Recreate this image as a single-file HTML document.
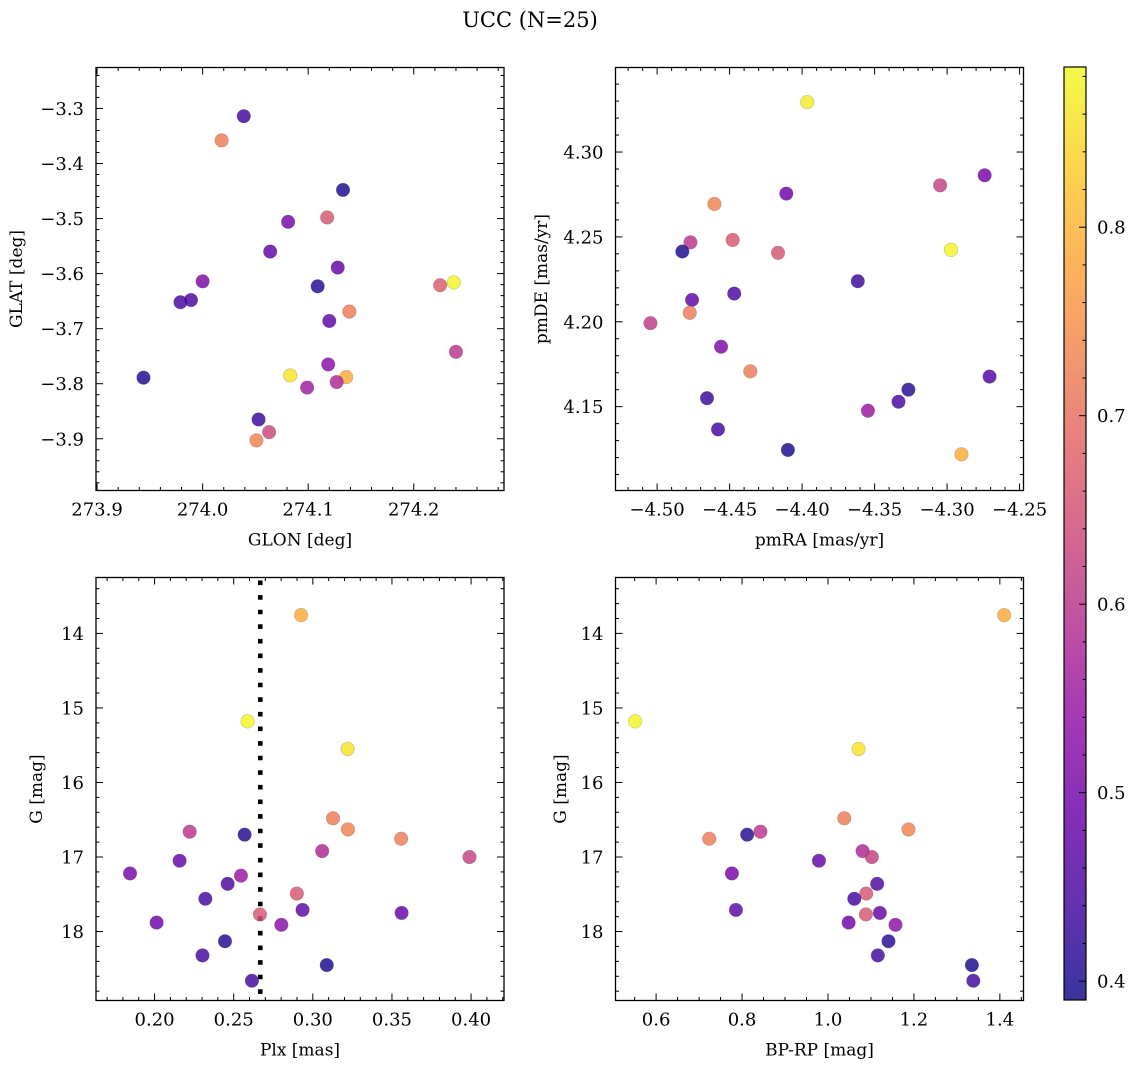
<!DOCTYPE html>
<html><head><meta charset="utf-8">
<style>
html,body{margin:0;padding:0;background:#fff;}
svg{display:block;font-family:"DejaVu Serif","Liberation Serif",serif;}
</style></head>
<body>
<svg id="fig" width="1136" height="1067" viewBox="0 0 1136 1067" xmlns="http://www.w3.org/2000/svg">
<defs>
<linearGradient id="plasma" x1="0" y1="1" x2="0" y2="0">
<stop offset="0" stop-color="#0d0887"/><stop offset="0.1" stop-color="#41049d"/><stop offset="0.2" stop-color="#6a00a8"/><stop offset="0.3" stop-color="#8f0da4"/><stop offset="0.4" stop-color="#b12a90"/><stop offset="0.5" stop-color="#cc4778"/><stop offset="0.6" stop-color="#e16462"/><stop offset="0.7" stop-color="#f2844b"/><stop offset="0.8" stop-color="#fca636"/><stop offset="0.9" stop-color="#fcce25"/><stop offset="1" stop-color="#f0f921"/>
</linearGradient>
</defs>
<text x="530" y="27" font-size="21" text-anchor="middle">UCC (N=25)</text>
</svg>
<script>
// ---- Data ----
const glon=[274.039,274.018,274.133,274.118,274.081,274.064,274.128,274.000,274.109,274.225,274.238,273.979,273.989,274.139,274.120,274.240,273.944,274.083,274.119,274.136,274.127,274.099,274.053,274.063,274.051];
const glat=[-3.314,-3.358,-3.448,-3.498,-3.506,-3.560,-3.589,-3.614,-3.623,-3.621,-3.616,-3.652,-3.648,-3.669,-3.686,-3.742,-3.789,-3.785,-3.765,-3.788,-3.797,-3.807,-3.865,-3.888,-3.903];
const colorSky=[0.44,0.72,0.40,0.66,0.50,0.47,0.48,0.51,0.41,0.67,0.88,0.44,0.45,0.72,0.47,0.60,0.40,0.86,0.53,0.79,0.58,0.56,0.43,0.63,0.73];

const pmra=[-4.3965,-4.2741,-4.3048,-4.4109,-4.4605,-4.4770,-4.4826,-4.4479,-4.4166,-4.2973,-4.3616,-4.4759,-4.4468,-4.4775,-4.5046,-4.4559,-4.4357,-4.2707,-4.3267,-4.3335,-4.3546,-4.4656,-4.4580,-4.4098,-4.2901];
const pmde=[4.3294,4.2863,4.2804,4.2755,4.2694,4.2468,4.2414,4.2482,4.2406,4.2424,4.2239,4.2129,4.2166,4.2053,4.1992,4.1853,4.1708,4.1677,4.1600,4.1529,4.1476,4.1550,4.1366,4.1245,4.1219];
const colorPM=[0.87,0.50,0.62,0.49,0.73,0.60,0.40,0.66,0.66,0.88,0.43,0.47,0.45,0.72,0.61,0.51,0.72,0.46,0.41,0.45,0.55,0.43,0.44,0.40,0.79];

const plx=[0.2926,0.2588,0.3220,0.3128,0.3222,0.3558,0.2222,0.2569,0.3059,0.3990,0.2158,0.1845,0.2546,0.2462,0.2321,0.2899,0.2935,0.3561,0.2666,0.2801,0.2013,0.2445,0.2303,0.3088,0.2615];
const gPlx=[13.755,15.18,15.55,16.48,16.63,16.755,16.66,16.70,16.92,17.00,17.05,17.22,17.25,17.36,17.56,17.49,17.71,17.75,17.77,17.91,17.88,18.13,18.32,18.45,18.66];
const colorPlx=[0.79,0.88,0.86,0.72,0.73,0.72,0.60,0.41,0.58,0.62,0.48,0.50,0.55,0.45,0.44,0.66,0.47,0.48,0.66,0.53,0.49,0.41,0.44,0.40,0.44];
const plxLine=[0.2668];

const bprp=[1.410,0.5513,1.0712,1.0378,1.1873,0.7237,0.8428,0.8119,1.0805,1.1021,0.979,0.7764,1.1144,1.089,1.0612,0.7857,1.1207,1.0882,1.048,1.1571,1.1408,1.116,1.3349,1.3382];
const gCMD=[13.755,15.18,15.55,16.48,16.63,16.755,16.66,16.70,16.92,17.00,17.05,17.22,17.36,17.49,17.56,17.71,17.75,17.77,17.88,17.91,18.13,18.32,18.45,18.66];
const colorCMD=[0.79,0.88,0.86,0.72,0.73,0.72,0.60,0.41,0.58,0.62,0.48,0.50,0.45,0.66,0.44,0.47,0.48,0.66,0.49,0.53,0.41,0.44,0.40,0.44];

const cbarTicks=[0.4,0.5,0.6,0.7,0.8];
const cmin=0.39, cmax=0.885;

// ---- helpers ----
const NS="http://www.w3.org/2000/svg";
const svg=document.getElementById('fig');
function el(tag,attrs,parent){const e=document.createElementNS(NS,tag);for(const k in attrs)e.setAttribute(k,attrs[k]);(parent||svg).appendChild(e);return e;}
const stops=[[0,13,8,135],[0.1,65,4,157],[0.2,106,0,168],[0.3,143,13,164],[0.4,177,42,144],[0.5,204,71,120],[0.6,225,100,98],[0.7,242,132,75],[0.8,252,166,54],[0.9,252,206,37],[1,240,249,33]];
function plasma(v){let t=(v-cmin)/(cmax-cmin);t=Math.max(0,Math.min(1,t));
 for(let i=0;i<stops.length-1;i++){const a=stops[i],b=stops[i+1];if(t<=b[0]){const f=(t-a[0])/(b[0]-a[0]);return `rgb(${Math.round(a[1]+f*(b[1]-a[1]))},${Math.round(a[2]+f*(b[2]-a[2]))},${Math.round(a[3]+f*(b[3]-a[3]))})`;}}
 return 'rgb(240,249,33)';}
function fmt(v,d){const s=Math.abs(v).toFixed(d);return (v<-1e-9?'\u2212':'')+s;}

function panel(cfg){
 const g=el('g',{});
 
 
 const sx=v=>cfg.x0+(v-cfg.xa)/(cfg.xb-cfg.xa)*(cfg.x1-cfg.x0);
 const sy=v=>cfg.y0+(v-cfg.ya)/(cfg.yb-cfg.ya)*(cfg.y1-cfg.y0);
 const tg=el('g',{stroke:'#000','stroke-width':1},g);
 const lo=Math.min(cfg.xa,cfg.xb),hi=Math.max(cfg.xa,cfg.xb);
 for(let k=Math.ceil(lo/cfg.xmin-1e-6);k*cfg.xmin<=hi+1e-9;k++){const v=k*cfg.xmin;const X=sx(v);
  const isMaj=Math.abs(v/cfg.xmaj-Math.round(v/cfg.xmaj))<1e-4;const L=isMaj?7:3.5;
  el('line',{x1:X,x2:X,y1:cfg.y1,y2:cfg.y1-L},tg);el('line',{x1:X,x2:X,y1:cfg.y0,y2:cfg.y0+L},tg);
  if(isMaj){const t=el('text',{x:X,y:cfg.y1+25,'font-size':18,'text-anchor':'middle',stroke:'none',fill:'#000'},g);t.textContent=fmt(v,cfg.xd);
   }}
 const ylo=Math.min(cfg.ya,cfg.yb),yhi=Math.max(cfg.ya,cfg.yb);
 for(let k=Math.ceil(ylo/cfg.ymin-1e-6);k*cfg.ymin<=yhi+1e-9;k++){const v=k*cfg.ymin;const Y=sy(v);
  const isMaj=Math.abs(v/cfg.ymaj-Math.round(v/cfg.ymaj))<1e-4;const L=isMaj?7:3.5;
  el('line',{x1:cfg.x0,x2:cfg.x0+L,y1:Y,y2:Y},tg);el('line',{x1:cfg.x1,x2:cfg.x1-L,y1:Y,y2:Y},tg);
  if(isMaj){const t=el('text',{x:cfg.x0-12,y:Y+6.5,'font-size':18,'text-anchor':'end',fill:'#000'},g);t.textContent=fmt(v,cfg.yd);
   }}
 const fr=el('rect',{x:cfg.x0,y:cfg.y0,width:cfg.x1-cfg.x0,height:cfg.y1-cfg.y0,fill:'none',stroke:'#000','stroke-width':1.3},g);
 
 const xl=el('text',{x:(cfg.x0+cfg.x1)/2,y:cfg.y1+55,'font-size':17,'text-anchor':'middle'},g);xl.textContent=cfg.xlabel;
 
 const yx=cfg.ylx, yy=(cfg.y0+cfg.y1)/2;
 const yl=el('text',{x:yx,y:yy,'font-size':17,'text-anchor':'middle',transform:`rotate(-90 ${yx} ${yy})`},g);yl.textContent=cfg.ylabel;
 
 if(cfg.vline){cfg.vline.forEach(v=>{const l=el('line',{x1:sx(v),x2:sx(v),y1:cfg.y0+3,y2:cfg.y1,stroke:'#000','stroke-width':4.6,'stroke-dasharray':'4.6 10'},g);
  });}
 for(let i=0;i<cfg.xs.length;i++){
  const c=el('circle',{cx:sx(cfg.xs[i]),cy:sy(cfg.ys[i]),r:6.8,fill:plasma(cfg.cs[i]),'fill-opacity':0.82,stroke:'#555','stroke-opacity':0.35,'stroke-width':0.6},g);
  
  
 }
}

panel({name:'panel-glon-glat',x0:96,x1:504,y0:67.5,y1:490.5,xa:273.899,xb:274.2855,ya:-3.2256,yb:-3.994,xmaj:0.1,xmin:0.02,ymaj:0.1,ymin:0.02,xd:1,yd:1,xlabel:'GLON [deg]',ylabel:'GLAT [deg]',ylx:22,xs:glon,ys:glat,cs:colorSky});
panel({name:'panel-proper-motion',x0:615.5,x1:1023.5,y0:67.5,y1:490.5,xa:-4.5287,xb:-4.2473,ya:4.3498,yb:4.1006,xmaj:0.05,xmin:0.01,ymaj:0.05,ymin:0.01,xd:2,yd:2,xlabel:'pmRA [mas/yr]',ylabel:'pmDE [mas/yr]',ylx:547,xs:pmra,ys:pmde,cs:colorPM});
panel({name:'panel-plx-g',x0:96,x1:504,y0:577.5,y1:1000.5,xa:0.163,xb:0.4208,ya:13.25,yb:18.925,xmaj:0.05,xmin:0.01,ymaj:1,ymin:0.2,xd:2,yd:0,xlabel:'Plx [mas]',ylabel:'G [mag]',ylx:42,xs:plx,ys:gPlx,cs:colorPlx,vline:plxLine});
panel({name:'panel-cmd',x0:615.5,x1:1023.5,y0:577.5,y1:1000.5,xa:0.5055,xb:1.455,ya:13.25,yb:18.925,xmaj:0.2,xmin:0.05,ymaj:1,ymin:0.2,xd:1,yd:0,xlabel:'BP-RP [mag]',ylabel:'G [mag]',ylx:566,xs:bprp,ys:gCMD,cs:colorCMD});

// ---- colorbar ----
const cb=el('g',{});


const cbx0=1064,cbx1=1086,cby0=67,cby1=1000;
el('rect',{x:cbx0,y:cby0,width:cbx1-cbx0,height:cby1-cby0,fill:'url(#plasma)','fill-opacity':0.82},cb);
const cbFrame=el('rect',{x:cbx0,y:cby0,width:cbx1-cbx0,height:cby1-cby0,fill:'none',stroke:'#000','stroke-width':1.2},cb);


const cy=v=>cby1-(v-cmin)/(cmax-cmin)*(cby1-cby0);
for(let k=Math.ceil(cmin/0.02);k*0.02<=cmax;k++){const v=k*0.02;const Y=cy(v);const maj=Math.abs(v*10-Math.round(v*10))<1e-4;
 el('line',{x1:cbx1,x2:cbx1-(maj?7:3.5),y1:Y,y2:Y,stroke:'#000','stroke-width':1},cb);}
cbarTicks.forEach(v=>{const t=el('text',{x:1097,y:cy(v)+6.5,'font-size':18},cb);t.textContent=v.toFixed(1);
 
 });
</script>
</body></html>
